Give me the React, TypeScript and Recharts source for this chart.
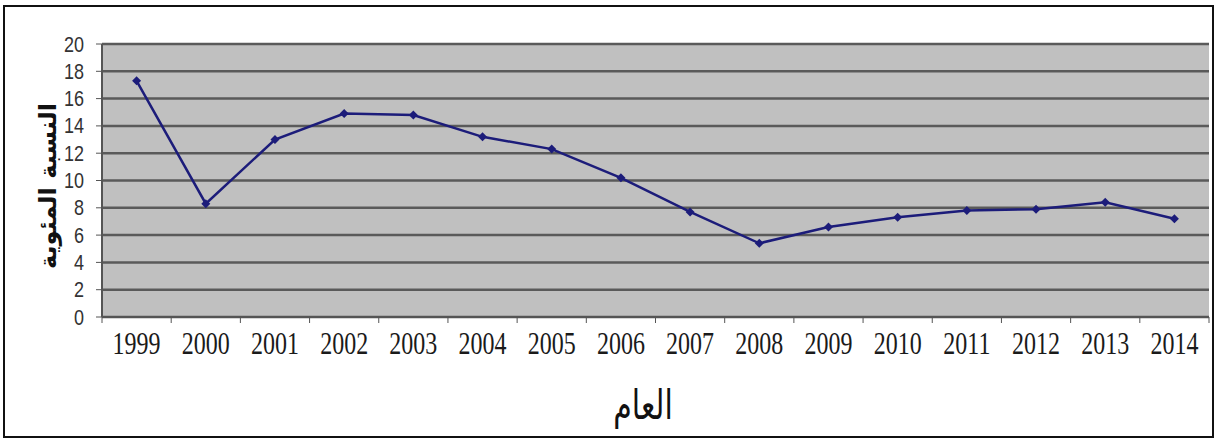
import { CartesianGrid, Line, LineChart, XAxis, YAxis } from 'recharts'

const years = [
  '1999', '2000', '2001', '2002', '2003', '2004', '2005', '2006',
  '2007', '2008', '2009', '2010', '2011', '2012', '2013', '2014'
]
const rates = [
  17.3, 8.3, 13.0, 14.9, 14.8, 13.2, 12.3, 10.2,
  7.7, 5.4, 6.6, 7.3, 7.8, 7.9, 8.4, 7.2
]
const yTicks = [0, 2, 4, 6, 8, 10, 12, 14, 16, 18, 20]

const data = years.map((year, i) => ({ year, rate: rates[i] }))

const LINE = '#1c1c7a'
const AXIS = '#555'

const CHART_W = 1217
const CHART_H = 439
const Y_AXIS_W = 102
const RIGHT = 8
// half of one category slot, so points sit in the middle of each year
const HALF_SLOT = (CHART_W - Y_AXIS_W - RIGHT) / years.length / 2

interface DotProps {
  cx?: number
  cy?: number
  index?: number
}

const Diamond = ({ cx, cy, index }: DotProps) => {
  if (cx == null || cy == null) return null
  const r = 4.5
  return (
    <polygon
      key={index}
      points={`${cx},${cy - r} ${cx + r},${cy} ${cx},${cy + r} ${cx - r},${cy}`}
      fill={LINE}
    />
  )
}

interface TickProps {
  x?: number
  y?: number
  index?: number
  payload?: { value: string | number }
}

// year label plus small tick marks on the slot boundaries
const YearTick = ({ x = 0, y = 0, index = 0, payload }: TickProps) => (
  <g>
    {index === 0 && (
      <line x1={x - HALF_SLOT} x2={x - HALF_SLOT} y1={y} y2={y + 6} stroke={AXIS} />
    )}
    <line x1={x + HALF_SLOT} x2={x + HALF_SLOT} y1={y} y2={y + 6} stroke={AXIS} />
    <text
      transform={`translate(${x},${y + 26}) scale(1,1.3)`}
      textAnchor='middle'
      dominantBaseline='central'
      fontSize={24}
      fontFamily='Liberation Serif'
      fill='#1a1a1a'
    >
      {payload?.value}
    </text>
  </g>
)

const RateTick = ({ x = 0, y = 0, payload }: TickProps) => (
  <text
    transform={`translate(${x},${y}) scale(1,1.18)`}
    textAnchor='end'
    dominantBaseline='central'
    fontSize={18}
    fontFamily='Liberation Sans'
    fill='#333'
  >
    {payload?.value}
  </text>
)

export default function App() {
  return (
    <div style={{ position: 'absolute', left: 0, top: 0, width: CHART_W, height: CHART_H, background: '#fff' }}>
      <div
        style={{
          position: 'absolute',
          left: 3,
          top: 5,
          width: 1211,
          height: 433,
          border: '2px solid #111',
          boxSizing: 'border-box'
        }}
      />
      <div style={{ position: 'absolute', left: 0, top: 0 }}>
        <LineChart
          width={CHART_W}
          height={CHART_H}
          data={data}
          margin={{ top: 44, right: RIGHT, left: 0, bottom: 92 }}
        >
          <CartesianGrid
            vertical={false}
            stroke='#5a5a5a'
            strokeWidth={2.5}
            fill='#c0c0c0'
            fillOpacity={1}
          />
          <XAxis
            dataKey='year'
            height={30}
            interval={0}
            padding={{ left: HALF_SLOT, right: HALF_SLOT }}
            axisLine={{ stroke: AXIS, strokeWidth: 2 }}
            tickLine={false}
            tickSize={0}
            tickMargin={0}
            tick={<YearTick />}
          />
          <YAxis
            width={Y_AXIS_W}
            domain={[0, 20]}
            ticks={yTicks}
            interval={0}
            axisLine={{ stroke: AXIS, strokeWidth: 2 }}
            tickLine={{ stroke: AXIS }}
            tickSize={6}
            tickMargin={12}
            tick={<RateTick />}
          />
          <Line
            type='linear'
            dataKey='rate'
            stroke={LINE}
            strokeWidth={2.5}
            dot={<Diamond />}
            activeDot={false}
            isAnimationActive={false}
          />
          <text
            x={48}
            y={186}
            transform='rotate(-90 48 186)'
            textAnchor='middle'
            dominantBaseline='central'
            fontSize={24}
            fontWeight='bold'
            fontFamily='DejaVu Sans'
            fill='#111'
          >
            النسبة المئوية
          </text>
          <text
            transform='translate(643,405) scale(1,1.35)'
            textAnchor='middle'
            dominantBaseline='central'
            fontSize={30}
            fontFamily='DejaVu Sans'
            fill='#111'
          >
            العام
          </text>
        </LineChart>
      </div>
    </div>
  )
}
